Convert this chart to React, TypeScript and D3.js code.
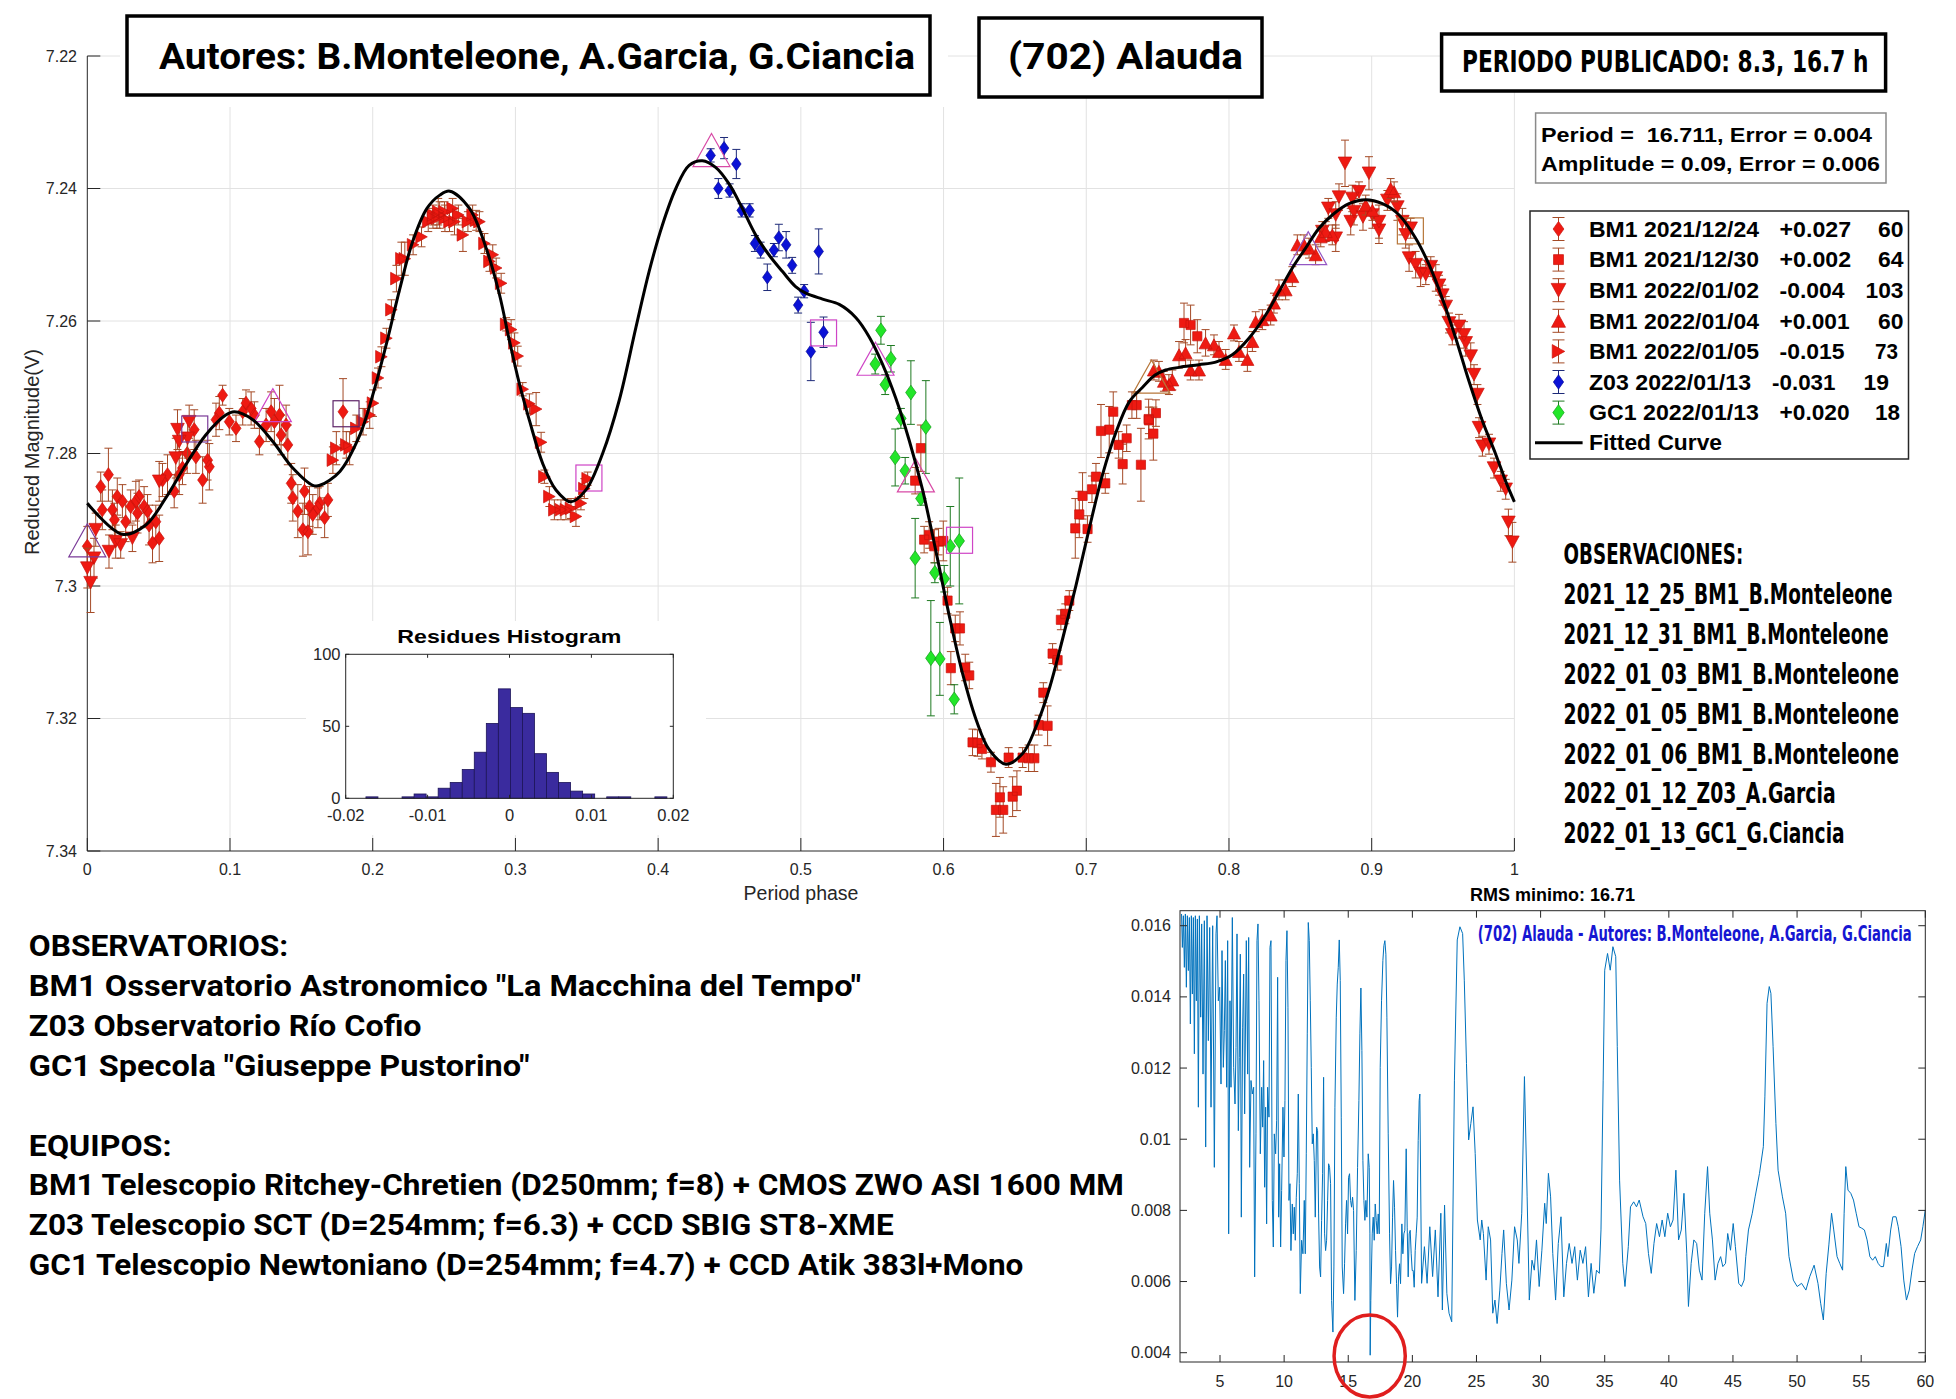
import React from "react";
import * as d3 from "d3";

type Obs = [number, number, number];
type XY = [number, number];

// ---------- light-curve data: [phase, reduced magnitude, error] ----------
const bm1_20211224: Obs[] = [
  [0.0, 7.294, 0.003], [0.0094, 7.285, 0.0022], [0.0148, 7.2832, 0.004], [0.0105, 7.2885, 0.003], [0.0176, 7.2885, 0.003],
  [0.021, 7.2865, 0.0028], [0.0246, 7.2872, 0.0025], [0.0269, 7.2903, 0.003], [0.0304, 7.288, 0.0025], [0.034, 7.2872, 0.003],
  [0.0363, 7.2865, 0.0025], [0.0398, 7.288, 0.003], [0.0422, 7.2887, 0.0025], [0.0457, 7.2935, 0.003], [0.0504, 7.2928, 0.0035],
  [0.048, 7.2903, 0.0025], [0.0433, 7.2908, 0.003], [0.0527, 7.284, 0.0025], [0.0562, 7.2832, 0.003], [0.0609, 7.2857, 0.0025],
  [0.0644, 7.2832, 0.003], [0.0667, 7.2822, 0.0025], [0.0749, 7.2764, 0.003], [0.0761, 7.2805, 0.0025], [0.0808, 7.284, 0.0035],
  [0.0843, 7.281, 0.003], [0.0855, 7.282, 0.0035], [0.0902, 7.2749, 0.0025], [0.0948, 7.2712, 0.0015], [0.0925, 7.2739, 0.0025],
  [0.0995, 7.2752, 0.002], [0.1042, 7.2762, 0.002], [0.1089, 7.2737, 0.002], [0.1112, 7.2724, 0.002], [0.1148, 7.2732, 0.0025],
  [0.1171, 7.2742, 0.002], [0.1206, 7.2782, 0.002], [0.1253, 7.2757, 0.0025], [0.1288, 7.2737, 0.003], [0.1311, 7.2752, 0.0035],
  [0.1347, 7.2742, 0.0045], [0.1358, 7.2772, 0.003], [0.1393, 7.2757, 0.003], [0.1405, 7.2787, 0.003], [0.1429, 7.2845, 0.003],
  [0.144, 7.2867, 0.0035], [0.1475, 7.2887, 0.004], [0.1511, 7.2915, 0.004], [0.1546, 7.2918, 0.0035], [0.1557, 7.288, 0.003],
  [0.158, 7.2892, 0.003], [0.1616, 7.2882, 0.003], [0.1628, 7.2875, 0.0025], [0.1663, 7.2897, 0.003], [0.1686, 7.287, 0.0025],
  [0.1522, 7.2857, 0.0035], [0.1792, 7.2737, 0.005], [0.0352, 7.289, 0.003], [0.019, 7.29, 0.0025], [0.07, 7.28, 0.003],
];

const bm1_20211230: Obs[] = [
  [0.5841, 7.2792, 0.0035], [0.5801, 7.2841, 0.002], [0.5864, 7.293, 0.002], [0.5899, 7.2923, 0.002], [0.5935, 7.294, 0.0025],
  [0.5965, 7.2933, 0.002], [0.5998, 7.2932, 0.003], [0.6028, 7.3022, 0.002], [0.6082, 7.3064, 0.002], [0.6115, 7.3064, 0.0025],
  [0.6051, 7.3124, 0.0025], [0.6152, 7.3123, 0.002], [0.618, 7.3135, 0.002], [0.6203, 7.3236, 0.002], [0.6238, 7.3237, 0.002],
  [0.6269, 7.3246, 0.0015], [0.6332, 7.3266, 0.0015], [0.6367, 7.3338, 0.004], [0.6395, 7.3319, 0.003], [0.6418, 7.3338, 0.0035],
  [0.6456, 7.3259, 0.0015], [0.6484, 7.3318, 0.003], [0.6514, 7.3309, 0.003], [0.6554, 7.3259, 0.0015], [0.6596, 7.326, 0.002],
  [0.6636, 7.326, 0.002], [0.6666, 7.321, 0.0015], [0.6699, 7.3161, 0.0015], [0.6729, 7.3211, 0.003], [0.6764, 7.3102, 0.0015],
  [0.6799, 7.3112, 0.0015], [0.6822, 7.3051, 0.0015], [0.6853, 7.3042, 0.0015], [0.6881, 7.3022, 0.0015], [0.6923, 7.2913, 0.0045],
  [0.6951, 7.2892, 0.0035], [0.6974, 7.2864, 0.0035], [0.7009, 7.2914, 0.002], [0.704, 7.2854, 0.002], [0.7068, 7.2835, 0.002],
  [0.7103, 7.2766, 0.004], [0.7133, 7.2845, 0.0015], [0.7161, 7.2764, 0.0035], [0.7189, 7.2737, 0.003], [0.7227, 7.2787, 0.002],
  [0.7255, 7.2816, 0.003], [0.7283, 7.2777, 0.002], [0.732, 7.2727, 0.002], [0.7353, 7.2727, 0.002], [0.7383, 7.2817, 0.0055],
  [0.7437, 7.2748, 0.003], [0.747, 7.277, 0.004], [0.7488, 7.2739, 0.002], [0.7685, 7.2603, 0.003], [0.7731, 7.2606, 0.003],
  [0.7778, 7.2623, 0.0025], [0.7439, 7.275, 0.002],
];

const bm1_20220102: Obs[] = [
  [0.0, 7.2973, 0.003], [0.0023, 7.2995, 0.0045], [0.0047, 7.2958, 0.003], [0.0059, 7.2915, 0.0025], [0.0152, 7.2948, 0.0025],
  [0.0199, 7.2933, 0.0025], [0.0234, 7.2938, 0.002], [0.0316, 7.2928, 0.002], [0.0504, 7.2842, 0.003], [0.062, 7.2807, 0.003],
  [0.0632, 7.2764, 0.003], [0.0644, 7.2782, 0.0025], [0.0714, 7.2752, 0.0025], [0.0703, 7.2777, 0.003],
  [0.8813, 7.2362, 0.0035], [0.8981, 7.2377, 0.0025], [0.8696, 7.243, 0.0015], [0.8771, 7.2413, 0.002], [0.8853, 7.245, 0.002],
  [0.8911, 7.2405, 0.0015], [0.8876, 7.2435, 0.002], [0.8939, 7.2443, 0.002], [0.9005, 7.244, 0.002], [0.9051, 7.245, 0.0025],
  [0.9051, 7.2463, 0.002], [0.911, 7.2418, 0.0015], [0.918, 7.2428, 0.002], [0.9215, 7.245, 0.002], [0.9238, 7.247, 0.002],
  [0.9273, 7.246, 0.0015], [0.9262, 7.2505, 0.002], [0.9308, 7.2515, 0.002], [0.9343, 7.2528, 0.002], [0.9379, 7.253, 0.0015],
  [0.9414, 7.2518, 0.0015], [0.9449, 7.2535, 0.002], [0.9472, 7.2546, 0.0015], [0.9495, 7.2561, 0.0015], [0.9519, 7.2578, 0.0015],
  [0.9542, 7.2603, 0.0015], [0.9565, 7.2621, 0.0015], [0.9612, 7.2608, 0.0018], [0.9647, 7.2621, 0.002], [0.9659, 7.2633, 0.002],
  [0.9694, 7.2653, 0.002], [0.9717, 7.2681, 0.0015], [0.9741, 7.2711, 0.0015], [0.9752, 7.2761, 0.0015], [0.9776, 7.2789, 0.0015],
  [0.9822, 7.2786, 0.0015], [0.9857, 7.2822, 0.0015], [0.9904, 7.2842, 0.0015], [0.9939, 7.2854, 0.0015], [0.9958, 7.2904, 0.002],
  [0.9986, 7.2934, 0.003], [0.8748, 7.244, 0.002], [0.8864, 7.2415, 0.002], [0.8654, 7.2465, 0.0015], [0.8748, 7.2475, 0.002],
];

const bm1_20220104: Obs[] = [
  [0.7474, 7.2674, 0.0015], [0.7509, 7.2676, 0.0015], [0.7544, 7.2691, 0.0015], [0.7579, 7.2696, 0.0015], [0.7603, 7.2689, 0.0015],
  [0.765, 7.2651, 0.002], [0.7696, 7.2648, 0.002], [0.7731, 7.2674, 0.0015], [0.779, 7.2674, 0.0015], [0.7836, 7.2633, 0.002],
  [0.7895, 7.2636, 0.0015], [0.793, 7.2646, 0.0015], [0.7977, 7.2658, 0.0015], [0.8035, 7.2618, 0.0012], [0.807, 7.2646, 0.0015],
  [0.8129, 7.2658, 0.0018], [0.8164, 7.2631, 0.0015], [0.8187, 7.2601, 0.0015], [0.8234, 7.2598, 0.0015], [0.8292, 7.2591, 0.0015],
  [0.8315, 7.2573, 0.0015], [0.835, 7.2553, 0.0015], [0.8397, 7.2553, 0.0015], [0.8444, 7.2533, 0.0015], [0.8479, 7.2485, 0.0015],
  [0.8526, 7.2485, 0.0015], [0.8561, 7.249, 0.0015], [0.8607, 7.25, 0.0015], [0.8643, 7.2473, 0.0015], [0.8678, 7.2465, 0.0015],
  [0.8724, 7.247, 0.0015], [0.9133, 7.24, 0.0015], [0.9157, 7.2405, 0.0015], [0.8958, 7.2425, 0.0015], [0.9005, 7.2433, 0.0015],
];

const bm1_20220105: Obs[] = [
  [0.1721, 7.281, 0.002], [0.1745, 7.2792, 0.0025], [0.1815, 7.2787, 0.002], [0.1838, 7.2792, 0.0025], [0.1885, 7.2762, 0.002],
  [0.1932, 7.2752, 0.002], [0.1979, 7.2742, 0.002], [0.2002, 7.2724, 0.002], [0.2037, 7.2686, 0.0015], [0.2061, 7.2654, 0.0015],
  [0.2096, 7.2626, 0.0015], [0.2131, 7.2583, 0.0015], [0.2166, 7.2536, 0.002], [0.2201, 7.2506, 0.0025], [0.2225, 7.2506, 0.0025],
  [0.2283, 7.2485, 0.0015], [0.2342, 7.2473, 0.0015], [0.2389, 7.245, 0.0015], [0.2424, 7.244, 0.0015], [0.2459, 7.2435, 0.002],
  [0.2506, 7.2445, 0.002], [0.2422, 7.2445, 0.0015], [0.2469, 7.244, 0.002], [0.2503, 7.2435, 0.0015], [0.2538, 7.245, 0.0015],
  [0.2573, 7.245, 0.002], [0.2632, 7.247, 0.0025], [0.2667, 7.245, 0.0015], [0.2725, 7.2448, 0.0015], [0.2748, 7.245, 0.0015],
  [0.2783, 7.2483, 0.0015], [0.2818, 7.251, 0.0015], [0.2841, 7.25, 0.0015], [0.2865, 7.252, 0.0015], [0.29, 7.2543, 0.0015],
  [0.2935, 7.2605, 0.001], [0.297, 7.2613, 0.0015], [0.2993, 7.2633, 0.0015], [0.3016, 7.2653, 0.0015], [0.3051, 7.2703, 0.001],
  [0.3098, 7.2725, 0.0015], [0.3145, 7.2733, 0.0025], [0.318, 7.2783, 0.0015], [0.3203, 7.2835, 0.001], [0.3238, 7.2865, 0.0015],
  [0.3273, 7.2885, 0.0015], [0.3319, 7.2885, 0.0015], [0.3354, 7.2885, 0.0015], [0.3389, 7.2883, 0.0015], [0.3424, 7.2895, 0.0015],
  [0.3459, 7.2875, 0.001], [0.3506, 7.2838, 0.001], [0.3483, 7.2853, 0.0015], [0.256, 7.243, 0.0015], [0.26, 7.244, 0.0015],
  [0.245, 7.2445, 0.0015], [0.27, 7.244, 0.0015],
];

const z03_20220113: Obs[] = [
  [0.4368, 7.235, 0.001], [0.4462, 7.2339, 0.0016], [0.4548, 7.2363, 0.0022], [0.4422, 7.24, 0.0015], [0.4501, 7.2403, 0.001],
  [0.4585, 7.2433, 0.001], [0.4641, 7.2433, 0.001], [0.4678, 7.2483, 0.0012], [0.4718, 7.2493, 0.0012], [0.4811, 7.2493, 0.001],
  [0.4846, 7.2474, 0.002], [0.4897, 7.2485, 0.002], [0.4939, 7.2516, 0.0012], [0.4765, 7.2534, 0.002], [0.4981, 7.2576, 0.0012],
  [0.5023, 7.2555, 0.001], [0.507, 7.2646, 0.0044], [0.5159, 7.2617, 0.0023], [0.5125, 7.2495, 0.0034],
];

const gc1_20220113: Obs[] = [
  [0.5561, 7.2614, 0.0021], [0.5521, 7.2665, 0.0015], [0.5631, 7.2657, 0.002], [0.5591, 7.2696, 0.0015], [0.5771, 7.2708, 0.0048],
  [0.5701, 7.2747, 0.0015], [0.5876, 7.276, 0.007], [0.5661, 7.2806, 0.0043], [0.5731, 7.2826, 0.002], [0.5841, 7.2868, 0.001],
  [0.5801, 7.2958, 0.006], [0.5939, 7.298, 0.0015], [0.6005, 7.2989, 0.002], [0.6047, 7.294, 0.006], [0.611, 7.2932, 0.0095],
  [0.5911, 7.3109, 0.0087], [0.5974, 7.311, 0.0055], [0.6075, 7.3171, 0.0022],
];

// session start / end markers: [phase, magnitude, colour group]
const sessionTriangles: [number, number, string][] = [
  [0.0, 7.2931, "purple"], [0.13, 7.2727, "magenta"], [0.4374, 7.2342, "pink"], [0.5523, 7.2657, "magenta"],
  [0.5806, 7.2833, "pink"], [0.7457, 7.2684, "brown"], [0.8555, 7.249, "lilac"],
];
const sessionSquares: [number, number, string][] = [
  [0.0753, 7.2763, "purple"], [0.1813, 7.274, "darkpurple"], [0.3515, 7.2837, "magenta"], [0.5159, 7.2618, "magenta"],
  [0.6112, 7.2931, "magenta"], [0.9271, 7.2464, "brown"],
];

// fitted Fourier curve: [phase, magnitude]
const fittedCurve: XY[] = [
  [0.0, 7.2875], [0.0246, 7.2922], [0.041, 7.2908], [0.055, 7.2867], [0.069, 7.2817], [0.083, 7.2772], [0.097, 7.2742],
  [0.103, 7.2737], [0.116, 7.2749], [0.13, 7.2782], [0.144, 7.2822], [0.158, 7.2848], [0.163, 7.2848], [0.177, 7.2827],
  [0.191, 7.2772], [0.2, 7.2712], [0.21, 7.2631], [0.219, 7.2551], [0.228, 7.248], [0.238, 7.243], [0.247, 7.241],
  [0.254, 7.2404], [0.2678, 7.243], [0.2795, 7.249], [0.2888, 7.256], [0.2958, 7.263], [0.3028, 7.2695], [0.3098, 7.275],
  [0.3191, 7.2815], [0.3284, 7.2855], [0.3389, 7.2873], [0.3494, 7.2855], [0.3611, 7.28], [0.3727, 7.272], [0.3844, 7.261],
  [0.3937, 7.2525], [0.403, 7.2455], [0.4124, 7.24], [0.4217, 7.2365], [0.431, 7.2358], [0.4403, 7.2368], [0.4497, 7.2393],
  [0.459, 7.243], [0.4683, 7.247], [0.4776, 7.25], [0.487, 7.2525], [0.4963, 7.2548], [0.5035, 7.2558], [0.5152, 7.2567],
  [0.5269, 7.2575], [0.5386, 7.2595], [0.5479, 7.2624], [0.5572, 7.2665], [0.5666, 7.2717], [0.5759, 7.278], [0.5853, 7.2855],
  [0.5946, 7.2947], [0.604, 7.3045], [0.6133, 7.3132], [0.6227, 7.3201], [0.632, 7.3247], [0.6437, 7.3269], [0.6554, 7.3253],
  [0.6647, 7.3213], [0.6741, 7.3155], [0.6834, 7.308], [0.6928, 7.2999], [0.7021, 7.2913], [0.7114, 7.2832], [0.7208, 7.2768],
  [0.7301, 7.2722], [0.7395, 7.27], [0.748, 7.2682], [0.7556, 7.2674], [0.765, 7.267], [0.779, 7.2666], [0.7907, 7.2662],
  [0.8023, 7.2651], [0.814, 7.2626], [0.8257, 7.2591], [0.835, 7.2556], [0.8444, 7.252], [0.8537, 7.249], [0.8631, 7.246],
  [0.8724, 7.244], [0.8841, 7.2423], [0.8958, 7.2417], [0.9075, 7.2423], [0.9192, 7.244], [0.9308, 7.2475], [0.9402, 7.2515],
  [0.9495, 7.2566], [0.9589, 7.2626], [0.9682, 7.2691], [0.9776, 7.2751], [0.9869, 7.2801], [0.9939, 7.2842], [1.0, 7.2873],
];

const phaseTicks = [0, 0.1, 0.2, 0.3, 0.4, 0.5, 0.6, 0.7, 0.8, 0.9, 1];
const phaseTickLabels = ["0", "0.1", "0.2", "0.3", "0.4", "0.5", "0.6", "0.7", "0.8", "0.9", "1"];
const magTicks = [7.22, 7.24, 7.26, 7.28, 7.3, 7.32, 7.34];
const magTickLabels = ["7.22", "7.24", "7.26", "7.28", "7.3", "7.32", "7.34"];

// ---------- residues histogram ----------
const histEdges = [
  -0.01753, -0.01606, -0.01459, -0.01312, -0.01165, -0.01018, -0.00871, -0.00724, -0.00577, -0.0043, -0.00283, -0.00136,
  0.00011, 0.00158, 0.00305, 0.00452, 0.00599, 0.00746, 0.00893, 0.0104, 0.01187, 0.01334, 0.01481, 0.01628, 0.01775, 0.01922,
];
const histCounts = [1, 0, 0, 1, 3, 1, 7, 11, 20, 32, 52, 76, 63, 59, 31, 18, 11, 5, 3, 0, 1, 1, 0, 0, 1];
const histXTicks = [-0.02, -0.01, 0, 0.01, 0.02];
const histXTickLabels = ["-0.02", "-0.01", "0", "0.01", "0.02"];
const histYTicks = [0, 50, 100];
const histYTickLabels = ["0", "50", "100"];

// ---------- period search (RMS vs period in hours) ----------
const rmsCurve: XY[] = [
  [2.0, 0.01633], [2.065, 0.01539], [2.143, 0.01628], [2.221, 0.01483], [2.299, 0.01633], [2.377, 0.01427], [2.455, 0.01628],
  [2.532, 0.01474], [2.61, 0.01623], [2.688, 0.01324], [2.766, 0.01628], [2.844, 0.01408], [2.922, 0.01623], [3.0, 0.0124],
  [3.078, 0.01628], [3.156, 0.01389], [3.234, 0.01619], [3.312, 0.0109], [3.39, 0.01628], [3.494, 0.01343], [3.571, 0.01605],
  [3.675, 0.01183], [3.779, 0.01614], [3.883, 0.00978], [3.987, 0.01628], [4.091, 0.01277], [4.195, 0.01595], [4.299, 0.0109],
  [4.429, 0.016], [4.558, 0.00921], [4.688, 0.01577], [4.766, 0.01628], [4.87, 0.01389], [4.974, 0.01427], [5.078, 0.01155],
  [5.156, 0.0153], [5.26, 0.01202], [5.338, 0.01305], [5.416, 0.01502], [5.519, 0.01146], [5.597, 0.01558], [5.675, 0.00734],
  [5.779, 0.01389], [5.857, 0.01146], [5.961, 0.01623], [6.065, 0.01202], [6.169, 0.01099], [6.247, 0.01258], [6.325, 0.01577],
  [6.429, 0.01024], [6.506, 0.0123], [6.584, 0.0152], [6.662, 0.00781], [6.766, 0.01315], [6.844, 0.01464], [6.922, 0.01071],
  [7.052, 0.01558], [7.156, 0.01183], [7.234, 0.01567], [7.312, 0.00921], [7.416, 0.01165], [7.519, 0.01127], [7.623, 0.01146],
  [7.701, 0.00613], [7.805, 0.01015], [7.883, 0.01558], [7.961, 0.01605], [8.039, 0.01389], [8.143, 0.00959], [8.247, 0.01146],
  [8.325, 0.01034], [8.403, 0.01221], [8.481, 0.00865], [8.558, 0.0109], [8.636, 0.00762], [8.714, 0.01146], [8.818, 0.01062],
  [8.896, 0.01539], [8.974, 0.01558], [9.078, 0.00828], [9.156, 0.00697], [9.234, 0.01015], [9.338, 0.00959], [9.416, 0.01052],
  [9.494, 0.01455], [9.571, 0.00781], [9.649, 0.00931], [9.727, 0.00697], [9.805, 0.00856], [9.909, 0.0109], [9.987, 0.0095],
  [10.065, 0.01109], [10.143, 0.01502], [10.221, 0.01586], [10.299, 0.01371], [10.377, 0.00828], [10.455, 0.00875],
  [10.532, 0.00687], [10.636, 0.00818], [10.714, 0.00734], [10.792, 0.00809], [10.87, 0.00716], [10.948, 0.00837],
  [11.026, 0.00903], [11.104, 0.01127], [11.182, 0.00875], [11.26, 0.00566], [11.364, 0.00716], [11.468, 0.00678],
  [11.571, 0.00828], [11.649, 0.00678], [11.727, 0.00959], [11.805, 0.01296], [11.883, 0.01609], [11.961, 0.01558],
  [12.039, 0.01389], [12.117, 0.01202], [12.195, 0.00987], [12.273, 0.01015], [12.351, 0.0094], [12.429, 0.00781],
  [12.532, 0.01034], [12.61, 0.01024], [12.688, 0.0079], [12.766, 0.00641], [12.844, 0.00613], [12.922, 0.00772],
  [13.0, 0.00903], [13.078, 0.01174], [13.156, 0.00734], [13.234, 0.00687], [13.312, 0.00716], [13.39, 0.00828],
  [13.468, 0.00931], [13.545, 0.00921], [13.623, 0.00875], [13.701, 0.00547], [13.805, 0.00458], [13.883, 0.00641],
  [13.961, 0.0109], [14.065, 0.01343], [14.143, 0.01436], [14.221, 0.01483], [14.299, 0.0156], [14.377, 0.01446],
  [14.455, 0.01062], [14.532, 0.00641], [14.636, 0.00566], [14.714, 0.0065], [14.792, 0.00762], [14.87, 0.00828],
  [14.948, 0.00734], [15.026, 0.00893], [15.104, 0.00903], [15.182, 0.00828], [15.26, 0.00809], [15.338, 0.00837],
  [15.416, 0.008], [15.519, 0.00547], [15.623, 0.00687], [15.727, 0.00921], [15.831, 0.01109], [15.909, 0.01296],
  [15.987, 0.01425], [16.065, 0.01249], [16.143, 0.0094], [16.221, 0.00828], [16.299, 0.00772], [16.377, 0.00828],
  [16.455, 0.00781], [16.558, 0.00959], [16.636, 0.00921], [16.69, 0.00734], [16.71, 0.00393], [16.76, 0.00547],
  [16.87, 0.00734], [16.948, 0.00781], [17.026, 0.00716], [17.104, 0.00818], [17.182, 0.00772], [17.26, 0.00734],
  [17.338, 0.0079], [17.416, 0.00734], [17.493, 0.01202], [17.597, 0.01389], [17.701, 0.01502], [17.779, 0.01544],
  [17.857, 0.01558], [17.935, 0.0152], [18.013, 0.01343], [18.117, 0.01015], [18.221, 0.00734], [18.299, 0.00594],
  [18.377, 0.00641], [18.455, 0.00781], [18.532, 0.00884], [18.61, 0.00809], [18.688, 0.00687], [18.766, 0.00594],
  [18.844, 0.005], [18.922, 0.00613], [19.0, 0.0065], [19.078, 0.00594], [19.182, 0.00762], [19.26, 0.00678],
  [19.338, 0.00734], [19.416, 0.00744], [19.519, 0.00973], [19.597, 0.00753], [19.675, 0.00613], [19.753, 0.00734],
  [19.831, 0.00744], [19.909, 0.00678], [19.987, 0.00631], [20.065, 0.00631], [20.143, 0.00584], [20.221, 0.00687],
  [20.299, 0.00734], [20.377, 0.00781], [20.455, 0.00996], [20.532, 0.01109], [20.584, 0.01127], [20.72, 0.00595],
  [20.94, 0.00698], [21.15, 0.00595], [21.36, 0.00754], [21.58, 0.00614], [21.79, 0.00745], [22.0, 0.00557], [22.22, 0.00792],
  [22.34, 0.0052], [22.51, 0.00815], [22.69, 0.00567], [22.86, 0.00511], [23.07, 0.00487], [23.28, 0.01166], [23.5, 0.0156],
  [23.71, 0.01597], [23.92, 0.01578], [24.05, 0.01447], [24.22, 0.01213], [24.39, 0.00998], [24.56, 0.01044], [24.73, 0.01091],
  [24.9, 0.0096], [25.07, 0.00773], [25.29, 0.00717], [25.41, 0.00773], [25.54, 0.00735], [25.75, 0.00604], [25.92, 0.00754],
  [26.1, 0.00717], [26.27, 0.00511], [26.44, 0.00548], [26.61, 0.00482], [26.82, 0.00576], [26.99, 0.00679], [27.12, 0.00745],
  [27.33, 0.00595], [27.54, 0.0052], [27.76, 0.00604], [27.97, 0.00754], [28.18, 0.00717], [28.31, 0.00651], [28.53, 0.00792],
  [28.74, 0.01176], [28.95, 0.00838], [29.12, 0.00548], [29.33, 0.0066], [29.51, 0.00632], [29.68, 0.00717], [29.89, 0.00586],
  [30.1, 0.00688], [30.32, 0.0082], [30.44, 0.00763], [30.61, 0.00904], [30.78, 0.00838], [30.95, 0.00679], [31.17, 0.00548],
  [31.38, 0.00707], [31.59, 0.00782], [31.81, 0.00557], [32.02, 0.00651], [32.23, 0.00707], [32.45, 0.00651], [32.66, 0.00698],
  [32.87, 0.00604], [33.09, 0.00688], [33.3, 0.00651], [33.51, 0.00698], [33.73, 0.00557], [33.94, 0.00651], [34.15, 0.00567],
  [34.36, 0.00632], [34.58, 0.00623], [34.71, 0.00745], [34.88, 0.01166], [35.0, 0.01475], [35.22, 0.01522], [35.43, 0.01475],
  [35.64, 0.01541], [35.86, 0.01513], [35.98, 0.0126], [36.16, 0.00885], [36.41, 0.00651], [36.58, 0.00586], [36.84, 0.00698],
  [37.01, 0.0081], [37.26, 0.00824], [37.48, 0.0081], [37.69, 0.00829], [37.99, 0.00782], [38.2, 0.00763], [38.41, 0.00679],
  [38.63, 0.00623], [38.84, 0.00707], [39.05, 0.00763], [39.27, 0.00726], [39.48, 0.00773], [39.69, 0.00726], [39.91, 0.00792],
  [40.12, 0.00754], [40.33, 0.00773], [40.55, 0.00913], [40.76, 0.00717], [40.97, 0.00745], [41.18, 0.00848], [41.4, 0.00679],
  [41.53, 0.0053], [41.74, 0.00651], [41.95, 0.00717], [42.17, 0.00707], [42.38, 0.00632], [42.59, 0.00604], [42.8, 0.00792],
  [43.02, 0.00923], [43.19, 0.00792], [43.4, 0.00717], [43.61, 0.00604], [43.83, 0.00651], [44.04, 0.0067], [44.21, 0.00642],
  [44.42, 0.00651], [44.59, 0.00735], [44.81, 0.00688], [45.02, 0.00763], [45.19, 0.00698], [45.45, 0.00595], [45.66, 0.00586],
  [45.87, 0.00604], [46.0, 0.0067], [46.21, 0.00745], [46.51, 0.00792], [46.73, 0.00838], [47.07, 0.00904], [47.37, 0.00979],
  [47.49, 0.01119], [47.66, 0.01382], [47.83, 0.01429], [47.96, 0.0141], [48.13, 0.0126], [48.35, 0.01044], [48.52, 0.00913],
  [48.86, 0.00838], [49.11, 0.00792], [49.37, 0.0067], [49.71, 0.00604], [50.01, 0.00586], [50.35, 0.00595], [50.69, 0.00576],
  [50.99, 0.00614], [51.33, 0.00646], [51.63, 0.00595], [51.84, 0.00539], [52.05, 0.00492], [52.27, 0.00623], [52.48, 0.00703],
  [52.69, 0.00792], [52.86, 0.00745], [53.12, 0.0067], [53.33, 0.00651], [53.55, 0.00632], [53.67, 0.00792], [53.8, 0.00923],
  [53.97, 0.00857], [54.19, 0.00848], [54.4, 0.00829], [54.61, 0.00792], [54.83, 0.00754], [55.04, 0.0075], [55.25, 0.00745],
  [55.46, 0.00717], [55.68, 0.0067], [55.89, 0.0066], [56.1, 0.0067], [56.32, 0.00651], [56.53, 0.00642], [56.74, 0.00642],
  [56.96, 0.00707], [57.08, 0.0067], [57.3, 0.00745], [57.47, 0.00782], [57.72, 0.00782], [57.89, 0.00754], [58.11, 0.00698],
  [58.32, 0.00604], [58.53, 0.00548], [58.75, 0.00576], [58.96, 0.00632], [59.17, 0.00679], [59.39, 0.00698], [59.64, 0.00717],
  [59.81, 0.00754], [60.0, 0.00801],
];
const rmsMinimum = 16.71;
const rmsXTicks = [5, 10, 15, 20, 25, 30, 35, 40, 45, 50, 55, 60];
const rmsYTicks = [0.004, 0.006, 0.008, 0.01, 0.012, 0.014, 0.016];
const rmsYTickLabels = ["0.004", "0.006", "0.008", "0.01", "0.012", "0.014", "0.016"];

// ---------- legend & texts ----------
const legendLabels = ["BM1 2021/12/24", "BM1 2021/12/30", "BM1 2022/01/02", "BM1 2022/01/04", "BM1 2022/01/05", "Z03 2022/01/13", "GC1 2022/01/13"];
const legendOffsets = ["+0.027", "+0.002", "-0.004", "+0.001", "-0.015", "-0.031", "+0.020"];
const legendCounts = ["60", "64", "103", "60", "73", "19", "18"];

const observaciones = [
  "OBSERVACIONES:", "2021_12_25_BM1_B.Monteleone", "2021_12_31_BM1_B.Monteleone", "2022_01_03_BM1_B.Monteleone",
  "2022_01_05_BM1_B.Monteleone", "2022_01_06_BM1_B.Monteleone", "2022_01_12_Z03_A.Garcia", "2022_01_13_GC1_G.Ciancia",
];
const notesLines = [
  "OBSERVATORIOS:", 'BM1 Osservatorio Astronomico "La Macchina del Tempo"', "Z03 Observatorio Río Cofio",
  'GC1 Specola "Giuseppe Pustorino"', "", "EQUIPOS:",
  "BM1 Telescopio Ritchey-Chretien (D250mm; f=8) + CMOS ZWO ASI 1600 MM",
  "Z03 Telescopio SCT (D=254mm; f=6.3) + CCD SBIG ST8-XME",
  "GC1 Telescopio Newtoniano (D=254mm; f=4.7) + CCD Atik 383l+Mono",
];

// ---------- styling / layout ----------
const ARIAL = '"Liberation Sans", Arial, Helvetica, sans-serif';
const NARROW = '"Liberation Sans Narrow", "Arial Narrow", "DejaVu Sans Condensed", "DejaVu Sans", sans-serif';
const DIN = 'Roboto, "Liberation Sans", Arial, sans-serif';
const AX = "#262626";
const GRID = "#e2e2e2";
const RED = "#ee1a12";
const RED_EDGE = "#c8130c";
const BROWN = "#a44a26";
const hollowColors: Record<string, string> = {
  purple: "#7a3a98", magenta: "#cf45c6", pink: "#d84aa6", brown: "#b7773a", lilac: "#9457c4", darkpurple: "#5e2468",
};

function shapePath(shape: string, cx: number, cy: number, k = 1): string {
  switch (shape) {
    case "diamond": {
      const w = 5 * k, h = 7 * k;
      return `M${cx},${cy - h}L${cx + w},${cy}L${cx},${cy + h}L${cx - w},${cy}Z`;
    }
    case "square": {
      const s = 4.6 * k;
      return `M${cx - s},${cy - s}H${cx + s}V${cy + s}H${cx - s}Z`;
    }
    case "up": {
      const w = 6.5 * k, h = 6 * k;
      return `M${cx},${cy - h}L${cx + w},${cy + h}L${cx - w},${cy + h}Z`;
    }
    case "down": {
      const w = 6.8 * k, h = 6.3 * k;
      return `M${cx},${cy + h}L${cx + w},${cy - h}L${cx - w},${cy - h}Z`;
    }
    default: {
      const w = 5.8 * k, h = 6.3 * k;
      return `M${cx + w},${cy}L${cx - w},${cy - h}L${cx - w},${cy + h}Z`;
    }
  }
}

// condensed text: horizontally scaled, then fitted to the measured width
function NarrowText(props: { x: number; y: number; w: number; size: number; sx: number; family: string; fill?: string; children: string }) {
  const { x, y, w, size, sx, family, fill, children } = props;
  return (
    <text transform={`translate(${x},${y}) scale(${sx},1)`} x={0} y={0} fontSize={size} fontWeight="bold" fill={fill || "#000"}
      textLength={w / sx} lengthAdjust="spacingAndGlyphs" style={{ fontFamily: family }}>
      {children}
    </text>
  );
}

export default function App() {
  const W = 1956, H = 1399;
  const x = d3.scaleLinear().domain([0, 1]).range([87.3, 1514.4]);
  const y = d3.scaleLinear().domain([7.22, 7.34]).range([56, 851]);
  const hx = d3.scaleLinear().domain([-0.02, 0.02]).range([345.7, 673.3]);
  const hy = d3.scaleLinear().domain([0, 100]).range([798.3, 654.3]);
  const px = d3.scaleLinear().domain([1.88, 60]).range([1180, 1925.3]);
  const py = d3.scaleLinear().domain([0.003739, 0.016422]).range([1362, 910.7]);

  const series = [
    { data: bm1_20211224, shape: "diamond", fill: RED, edge: RED_EDGE, err: BROWN, k: 1 },
    { data: bm1_20211230, shape: "square", fill: RED, edge: RED_EDGE, err: BROWN, k: 1 },
    { data: bm1_20220102, shape: "down", fill: RED, edge: RED_EDGE, err: BROWN, k: 1 },
    { data: bm1_20220104, shape: "up", fill: RED, edge: RED_EDGE, err: BROWN, k: 1 },
    { data: bm1_20220105, shape: "right", fill: RED, edge: RED_EDGE, err: BROWN, k: 1 },
    { data: z03_20220113, shape: "diamond", fill: "#0b12d6", edge: "#060a9a", err: "#1d2a78", k: 0.95 },
    { data: gc1_20220113, shape: "diamond", fill: "#22e629", edge: "#139a18", err: "#1f7a22", k: 1.05 },
  ];

  const curvePath = d3.line<XY>().x((d) => x(d[0])).y((d) => y(d[1])).curve(d3.curveCatmullRom.alpha(0.5))(fittedCurve) || "";
  const rmsPath = d3.line<XY>().x((d) => px(d[0])).y((d) => py(d[1]))(rmsCurve) || "";

  const errPath = (data: Obs[], cap: number) =>
    data
      .map(([p, m, e]) => {
        const cx = x(p), y1 = y(m - e), y2 = y(m + e);
        return `M${cx},${y1}V${y2}M${cx - cap},${y1}H${cx + cap}M${cx - cap},${y2}H${cx + cap}`;
      })
      .join("");

  const legendRowY = (i: number) => 229 + i * 30.6;
  const legendOffsetX = [1779.6, 1779.6, 1779.6, 1779.6, 1779.6, 1772, 1779.6];
  const legendOffsetW = [71.5, 71.5, 65, 70, 65, 63.5, 70];
  const legendCountRight = [1903.5, 1903.5, 1903.5, 1903.5, 1898, 1889, 1900];
  const legendCountW = [25.5, 25.5, 38, 25.5, 23, 25.5, 25];
  const obsW = [179.7, 329, 325, 335.4, 335.4, 335.4, 272, 281];
  const notesW = [259.5, 832.4, 392.8, 500.9, 0, 142.7, 1095, 864.8, 994.6];

  return (
    <svg width={W} height={H} style={{ position: "absolute", left: 0, top: 0, background: "#fff" }}>
      <rect x={0} y={0} width={W} height={H} fill="#fff" />

      {/* ---------- main light-curve grid ---------- */}
      {phaseTicks.slice(1).map((t) => (
        <line key={"gv" + t} x1={x(t)} x2={x(t)} y1={y(7.22)} y2={y(7.34)} stroke={GRID} strokeWidth={1} />
      ))}
      {magTicks.slice(0, -1).map((t) => (
        <line key={"gh" + t} x1={x(0)} x2={x(1)} y1={y(t)} y2={y(t)} stroke={GRID} strokeWidth={1} />
      ))}
      <rect x={120} y={0} width={828} height={107} fill="#fff" />

      {/* axes */}
      <line x1={x(0)} x2={x(0)} y1={y(7.22)} y2={y(7.34)} stroke={AX} strokeWidth={1} />
      <line x1={x(0)} x2={x(1)} y1={y(7.34)} y2={y(7.34)} stroke={AX} strokeWidth={1} />
      {magTicks.map((t, i) => (
        <g key={"yt" + i}>
          <line x1={x(0)} x2={x(0) + 13} y1={y(t)} y2={y(t)} stroke={AX} />
          <text x={77} y={y(t) + 5.5} textAnchor="end" fontSize={16} fill={AX} style={{ fontFamily: ARIAL }}>
            {magTickLabels[i]}
          </text>
        </g>
      ))}
      {phaseTicks.map((t, i) => (
        <g key={"xt" + i}>
          <line x1={x(t)} x2={x(t)} y1={y(7.34)} y2={y(7.34) - 13} stroke={AX} />
          <text x={x(t)} y={875} textAnchor="middle" fontSize={16} fill={AX} style={{ fontFamily: ARIAL }}>
            {phaseTickLabels[i]}
          </text>
        </g>
      ))}
      <text x={801} y={900} textAnchor="middle" fontSize={19.5} fill={AX} style={{ fontFamily: ARIAL }}>
        Period phase
      </text>
      <text transform="translate(38.5,452) rotate(-90)" textAnchor="middle" fontSize={20} fill={AX}
        textLength={206} lengthAdjust="spacingAndGlyphs" style={{ fontFamily: ARIAL }}>
        Reduced Magnitude(V)
      </text>

      {/* data series */}
      {series.map((s, si) => (
        <g key={"s" + si}>
          <path d={errPath(s.data, 4)} stroke={s.err} strokeWidth={1} fill="none" />
          <path d={s.data.map(([p, m]) => shapePath(s.shape, x(p), y(m), s.k)).join("")} fill={s.fill} stroke={s.edge} strokeWidth={0.7} />
        </g>
      ))}

      {/* session markers */}
      {sessionTriangles.map(([p, m, c], i) => (
        <path key={"ht" + i} d={`M${x(p)},${y(m) - 16.5}L${x(p) + 18.5},${y(m) + 16.5}L${x(p) - 18.5},${y(m) + 16.5}Z`}
          fill="none" stroke={hollowColors[c]} strokeWidth={1.2} />
      ))}
      {sessionSquares.map(([p, m, c], i) => (
        <rect key={"hs" + i} x={x(p) - 13} y={y(m) - 13} width={26} height={26} fill="none" stroke={hollowColors[c]} strokeWidth={1.2} />
      ))}

      {/* fitted curve */}
      <path d={curvePath} fill="none" stroke="#000" strokeWidth={3} />

      {/* ---------- histogram inset ---------- */}
      <rect x={306} y={621} width={400} height={214} fill="#fff" />
      {histCounts.map((c, i) => (
        <rect key={"hb" + i} x={hx(histEdges[i])} y={hy(c)} width={hx(histEdges[i + 1]) - hx(histEdges[i])}
          height={hy(0) - hy(c)} fill="#3a2b9e" stroke="#1c1458" strokeWidth={0.8} />
      ))}
      <rect x={hx(-0.02)} y={hy(100)} width={hx(0.02) - hx(-0.02)} height={hy(0) - hy(100)} fill="none" stroke={AX} strokeWidth={1} />
      {histXTicks.map((t, i) => (
        <g key={"hxt" + i}>
          <line x1={hx(t)} x2={hx(t)} y1={hy(0)} y2={hy(0) - 3.5} stroke={AX} />
          <line x1={hx(t)} x2={hx(t)} y1={hy(100)} y2={hy(100) + 3.5} stroke={AX} />
          <text x={hx(t)} y={821} textAnchor="middle" fontSize={16.5} fill={AX} style={{ fontFamily: ARIAL }}>
            {histXTickLabels[i]}
          </text>
        </g>
      ))}
      {histYTicks.map((t, i) => (
        <g key={"hyt" + i}>
          <line x1={hx(-0.02)} x2={hx(-0.02) + 3.5} y1={hy(t)} y2={hy(t)} stroke={AX} />
          <line x1={hx(0.02)} x2={hx(0.02) - 3.5} y1={hy(t)} y2={hy(t)} stroke={AX} />
          <text x={340.5} y={hy(t) + 6} textAnchor="end" fontSize={16.5} fill={AX} style={{ fontFamily: ARIAL }}>
            {histYTickLabels[i]}
          </text>
        </g>
      ))}
      <text x={509.3} y={643.3} textAnchor="middle" fontSize={19} fontWeight="bold" fill="#000"
        textLength={224} lengthAdjust="spacingAndGlyphs" style={{ fontFamily: ARIAL }}>
        Residues Histogram
      </text>

      {/* ---------- title boxes ---------- */}
      <rect x={127} y={16} width={803} height={79} fill="#fff" stroke="#000" strokeWidth={3.5} />
      <text x={159} y={69} fontSize={36} fontWeight="bold" fill="#000" textLength={756} lengthAdjust="spacingAndGlyphs"
        style={{ fontFamily: DIN }}>
        Autores: B.Monteleone, A.Garcia, G.Ciancia
      </text>
      <rect x={979} y={18} width={283} height={79} fill="#fff" stroke="#000" strokeWidth={3.5} />
      <text x={1008} y={69} fontSize={37} fontWeight="bold" fill="#000" textLength={235} lengthAdjust="spacingAndGlyphs"
        style={{ fontFamily: DIN }}>
        (702) Alauda
      </text>
      <rect x={1441.6} y={34} width={444} height={57} fill="#fff" stroke="#000" strokeWidth={3.5} />
      <NarrowText x={1462} y={72} w={406.5} size={30} sx={0.72} family={NARROW}>
        PERIODO PUBLICADO: 8.3, 16.7 h
      </NarrowText>

      {/* period info box */}
      <rect x={1535.6} y={113} width={350.4} height={70} fill="#fff" stroke="#8a8a8a" strokeWidth={1.5} />
      <text x={1541} y={142} fontSize={21} fontWeight="bold" fill="#000" textLength={331} lengthAdjust="spacingAndGlyphs"
        style={{ fontFamily: ARIAL, whiteSpace: "pre" }}>
        {"Period =  16.711, Error = 0.004"}
      </text>
      <text x={1541} y={171} fontSize={21} fontWeight="bold" fill="#000" textLength={339} lengthAdjust="spacingAndGlyphs"
        style={{ fontFamily: ARIAL }}>
        Amplitude = 0.09, Error = 0.006
      </text>

      {/* legend */}
      <rect x={1530} y={211} width={378.5} height={248} fill="#fff" stroke={AX} strokeWidth={1.5} />
      {series.map((s, i) => {
        const cy = legendRowY(i), cx = 1558.5;
        return (
          <g key={"lg" + i}>
            <path d={`M${cx},${cy - 11.5}V${cy + 11.5}M${cx - 6},${cy - 11.5}H${cx + 6}M${cx - 6},${cy + 11.5}H${cx + 6}`}
              stroke={s.err} strokeWidth={1} fill="none" />
            <path d={shapePath(s.shape, cx, cy, 1.08 * s.k)} fill={s.fill} stroke={s.edge} strokeWidth={0.7} />
            <text x={1589} y={cy + 7.7} fontSize={22} fontWeight="bold" fill="#000"
              textLength={i === 5 ? 162 : 170} lengthAdjust="spacingAndGlyphs" style={{ fontFamily: ARIAL }}>
              {legendLabels[i]}
            </text>
            <text x={legendOffsetX[i]} y={cy + 7.7} fontSize={22} fontWeight="bold" fill="#000"
              textLength={legendOffsetW[i]} lengthAdjust="spacingAndGlyphs" style={{ fontFamily: ARIAL }}>
              {legendOffsets[i]}
            </text>
            <text x={legendCountRight[i] - legendCountW[i]} y={cy + 7.7} fontSize={22} fontWeight="bold" fill="#000"
              textLength={legendCountW[i]} lengthAdjust="spacingAndGlyphs" style={{ fontFamily: ARIAL }}>
              {legendCounts[i]}
            </text>
          </g>
        );
      })}
      <line x1={1535} x2={1582.6} y1={442.7} y2={442.7} stroke="#000" strokeWidth={3} />
      <text x={1589} y={450} fontSize={22} fontWeight="bold" fill="#000" textLength={133} lengthAdjust="spacingAndGlyphs"
        style={{ fontFamily: ARIAL }}>
        Fitted Curve
      </text>

      {/* observaciones */}
      {observaciones.map((t, i) => (
        <NarrowText key={"ob" + i} x={1563.6} y={564 + i * 39.9} w={obsW[i]} size={29} sx={0.68} family={NARROW}>
          {t}
        </NarrowText>
      ))}

      {/* observatorios / equipos */}
      {notesLines.map((t, i) =>
        t ? (
          <text key={"nt" + i} x={28.8} y={956 + i * 39.9} fontSize={29} fontWeight="bold" fill="#000"
            textLength={notesW[i]} lengthAdjust="spacingAndGlyphs" style={{ fontFamily: DIN }}>
            {t}
          </text>
        ) : null
      )}

      {/* ---------- period search plot ---------- */}
      <rect x={1180} y={910.7} width={745.3} height={451.3} fill="#fff" />
      <path d={rmsPath} fill="none" stroke="#0072bd" strokeWidth={1} />
      <rect x={1180} y={910.7} width={745.3} height={451.3} fill="none" stroke={AX} strokeWidth={1} />
      {rmsXTicks.map((t) => (
        <g key={"rx" + t}>
          <line x1={px(t)} x2={px(t)} y1={1362} y2={1355} stroke={AX} />
          <line x1={px(t)} x2={px(t)} y1={910.7} y2={917.7} stroke={AX} />
          <text x={px(t)} y={1386.7} textAnchor="middle" fontSize={16} fill={AX} style={{ fontFamily: ARIAL }}>
            {String(t)}
          </text>
        </g>
      ))}
      {rmsYTicks.map((t, i) => (
        <g key={"ry" + i}>
          <line x1={1180} x2={1187} y1={py(t)} y2={py(t)} stroke={AX} />
          <line x1={1925.3} x2={1918.3} y1={py(t)} y2={py(t)} stroke={AX} />
          <text x={1171} y={py(t) + 5.5} textAnchor="end" fontSize={16} fill={AX} style={{ fontFamily: ARIAL }}>
            {rmsYTickLabels[i]}
          </text>
        </g>
      ))}
      <text x={1552.5} y={900.7} textAnchor="middle" fontSize={18} fontWeight="bold" fill="#000" textLength={165}
        lengthAdjust="spacingAndGlyphs" style={{ fontFamily: ARIAL }}>
        {"RMS minimo: " + rmsMinimum.toFixed(2)}
      </text>
      <NarrowText x={1477.7} y={941} w={434} size={21} sx={0.66} family={NARROW} fill="#1616d2">
        (702) Alauda - Autores: B.Monteleone, A.Garcia, G.Ciancia
      </NarrowText>
      <ellipse cx={px(rmsMinimum) - 0.5} cy={1356} rx={35.6} ry={41} fill="none" stroke="#e01e1e" strokeWidth={3.5} />
    </svg>
  );
}
